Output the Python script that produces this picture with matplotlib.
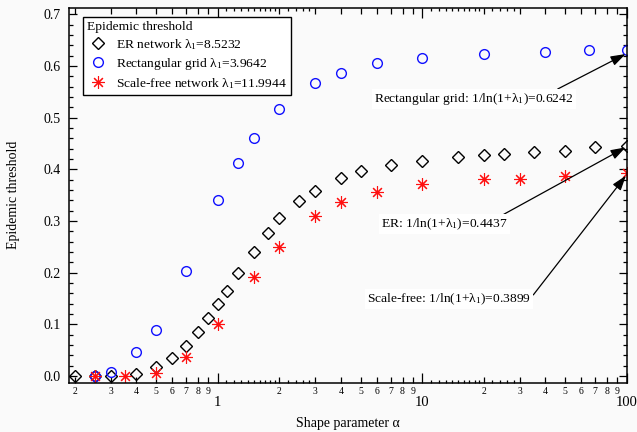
import matplotlib
matplotlib.use("Agg")
import matplotlib.pyplot as plt
import numpy as np

plt.rcParams['font.family'] = ['Liberation Serif', 'DejaVu Serif']
plt.rcParams['mathtext.fontset'] = 'custom'
plt.rcParams['mathtext.rm'] = 'Liberation Serif'
plt.rcParams['mathtext.it'] = 'Liberation Serif:italic'
plt.rcParams['mathtext.default'] = 'regular'

# ---------------- data ----------------
er_alpha = [0.2, 0.25, 0.3, 0.4, 0.5, 0.6, 0.7, 0.8, 0.9, 1.0, 1.11, 1.25, 1.5, 1.75,
            2.0, 2.5, 3.0, 4.0, 5.0, 7.0, 10, 15, 20, 25, 35, 50, 70, 100]
er_thr = [0.0, 0.0, 0.0, 0.004, 0.017, 0.035, 0.059, 0.086, 0.113, 0.139, 0.164, 0.199,
          0.240, 0.276, 0.305, 0.338, 0.358, 0.384, 0.397, 0.409, 0.417, 0.424, 0.427,
          0.430, 0.434, 0.436, 0.443, 0.445]

grid_alpha = [0.25, 0.3, 0.4, 0.5, 0.7, 1.0, 1.25, 1.5, 2.0, 3.0, 4.0, 6.0, 10, 20, 40, 65, 100]
grid_thr = [0.0, 0.008, 0.047, 0.090, 0.204, 0.340, 0.412, 0.461, 0.517, 0.567, 0.587,
            0.605, 0.615, 0.623, 0.626, 0.630, 0.630]

sf_alpha = [0.25, 0.35, 0.5, 0.7, 1.0, 1.5, 2.0, 3.0, 4.0, 6.0, 10, 20, 30, 50, 100]
sf_thr = [0.0, 0.0, 0.006, 0.036, 0.100, 0.191, 0.250, 0.310, 0.336, 0.356, 0.371,
          0.382, 0.382, 0.387, 0.393]

legend_labels = [r'ER network $\lambda_1$=8.5232',
                 r'Rectangular grid $\lambda_1$=3.9642',
                 r'Scale-free network $\lambda_1$=11.9944']
legend_title = 'Epidemic threshold'

theory_vals = [0.6242, 0.4437, 0.3899]
theory_texts = [r'Rectangular grid: 1/ln(1+$\lambda_1$)=0.6242',
                r'ER: 1/ln(1+$\lambda_1$)=0.4437',
                r'Scale-free: 1/ln(1+$\lambda_1$)=0.3899']
theory_text_pos = [(17.9, 0.536), (12.8, 0.294), (13.55, 0.149)]
theory_relpos = [(0.9, 1.0), (0.94, 1.0), (1.0, 0.6)]

bg = '#fafafa'
fig = plt.figure(figsize=(6.37, 4.32), dpi=100, facecolor=bg)
ax = fig.add_axes([0.109, 0.1134, 0.875, 0.8692], facecolor=bg)

ax.plot(er_alpha, er_thr, linestyle='none', marker='D', ms=6.3, mfc='none',
        mec='black', mew=1.0, label=legend_labels[0])
ax.plot(grid_alpha, grid_thr, linestyle='none', marker='o', ms=7, mfc='none',
        mec='#1010ff', mew=1.0, label=legend_labels[1])
ax.plot(sf_alpha, sf_thr, linestyle='none', marker=(8, 2, 0), ms=9,
        mec='#ff1010', mew=0.8, label=legend_labels[2])

ax.set_xscale('log')
ax.set_xlim(0.188, 100)
ax.set_ylim(-0.0135, 0.713)

# y ticks
ax.set_yticks(np.arange(0, 0.71, 0.1))
ax.set_yticklabels([f'{v:.1f}' for v in np.arange(0, 0.71, 0.1)])
ax.set_yticks(np.arange(0, 0.71, 0.02), minor=True)
ax.tick_params(axis='y', which='major', direction='in', length=6, width=0.9,
               left=True, right=True, labelsize=10, pad=6)
ax.tick_params(axis='y', which='minor', direction='in', length=3, width=0.9,
               left=True, right=True)

# x ticks
major_x = [1, 10, 100]
ax.set_xticks(major_x)
ax.set_xticklabels(['1', '10', '100'])
labeled_minor = [m * d for d in (0.1, 1, 10) for m in range(2, 10)]
sub_minor = [1.1, 1.2, 1.3, 1.4, 1.5, 1.6, 1.7, 1.8, 1.9, 2.2, 2.4, 2.6, 2.8,
             11, 12, 13, 14, 15, 16, 17, 18, 19, 22, 24, 26, 28]
minor_all = sorted(set(labeled_minor + sub_minor))
minor_labels = []
for v in minor_all:
    if any(abs(v - l) < 1e-9 for l in labeled_minor):
        minor_labels.append(str(int(round(v / (10 ** np.floor(np.log10(v) + 1e-9))))))
    else:
        minor_labels.append('')
ax.set_xticks(minor_all, minor=True)
ax.set_xticklabels(minor_labels, minor=True)
ax.tick_params(axis='x', which='major', direction='in', length=7, width=0.9,
               bottom=True, top=True, labelsize=10.5, pad=9)
ax.tick_params(axis='x', which='minor', direction='in', length=4, width=0.9,
               bottom=True, top=True, labelsize=7, pad=3)
for v, t in zip(minor_all, ax.xaxis.get_minor_ticks()):
    if not any(abs(v - l) < 1e-9 for l in labeled_minor):
        t.tick1line.set_markersize(2.2)
        t.tick2line.set_markersize(2.2)

for s in ax.spines.values():
    s.set_linewidth(1.1)

xl = ax.set_xlabel('Shape parameter α', fontsize=10)
yl = ax.set_ylabel('Epidemic threshold', fontsize=10)
xl.set_va('center')
yl.set_va('center')
ax.xaxis.set_label_coords(0.5, -0.108)
ax.yaxis.set_label_coords(-0.101, 0.5)

# annotations
for val, txt, pos, rp in zip(theory_vals, theory_texts, theory_text_pos, theory_relpos):
    ax.annotate(txt, xy=(100, val), xytext=pos, textcoords='data',
                ha='center', va='center', fontsize=9.7,
                bbox=dict(boxstyle='square,pad=0.15', fc='white', ec='none'),
                arrowprops=dict(arrowstyle='-|>,head_length=0.9,head_width=0.3',
                                color='black', lw=0.9, relpos=rp,
                                shrinkA=0, shrinkB=1, mutation_scale=10))

leg = ax.legend(loc='upper left', bbox_to_anchor=(0.024, 0.975), borderaxespad=0,
                title=legend_title, alignment='left', fontsize=9.7,
                title_fontsize=9.7, frameon=True, fancybox=False,
                edgecolor='black', facecolor='white', framealpha=1,
                handletextpad=0.6, labelspacing=0.3, borderpad=0.3,
                handlelength=1.6)
leg.get_frame().set_linewidth(1.0)

fig.savefig('out.png', dpi=100, facecolor=bg)
